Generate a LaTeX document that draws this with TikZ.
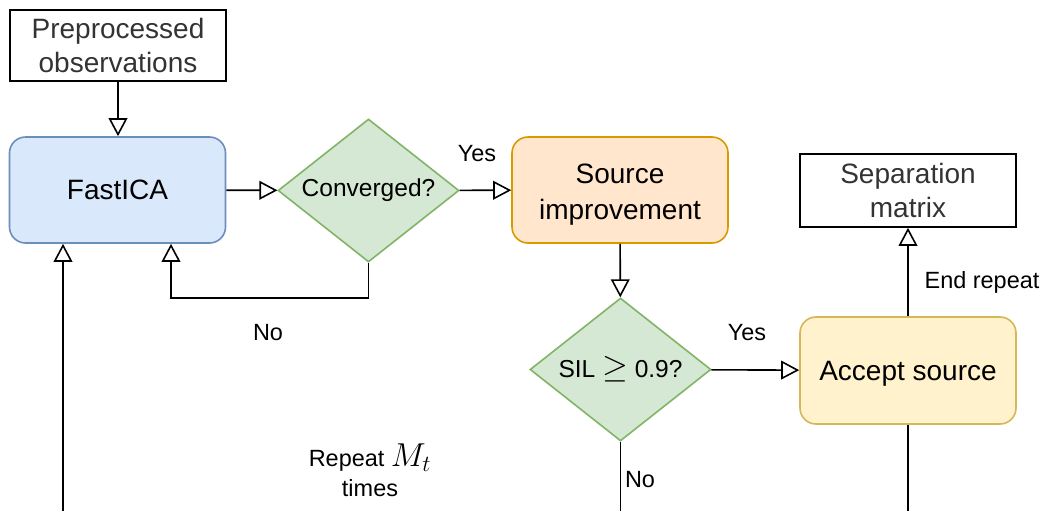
\documentclass[tikz,border=0pt]{standalone}
\usepackage{fontspec}
\setmainfont{Liberation Sans}
\usetikzlibrary{shapes.geometric,arrows.meta,positioning,calc}
\definecolor{IcaBlue}{HTML}{DAE8FC}
\definecolor{IcaBlueLine}{HTML}{6C8EBF}
\definecolor{DecGreen}{HTML}{D5E8D4}
\definecolor{DecGreenLine}{HTML}{82B366}
\definecolor{ImprOrange}{HTML}{FFE6CC}
\definecolor{ImprOrangeLine}{HTML}{D79B00}
\definecolor{AccYellow}{HTML}{FFF2CC}
\definecolor{AccYellowLine}{HTML}{D6B656}
\definecolor{TextGray}{HTML}{333333}
\newcommand{\bigmath}[1]{{\fontsize{23}{23}\selectfont$#1$}}

\begin{document}
\begin{tikzpicture}[x=0.75pt, y=-0.75pt,
  box/.style={draw, line width=1.2pt, rounded corners=12pt, minimum width=162pt, minimum height=79.5pt, align=center, inner sep=0pt, font=\fontsize{21}{27}\selectfont},
  plainbox/.style={draw, line width=1.2pt, minimum width=162pt, align=center, inner sep=0pt, text=TextGray, font=\fontsize{21}{25.5}\selectfont},
  decision/.style={diamond, draw=DecGreenLine, fill=DecGreen, line width=1.2pt, aspect=1.27, minimum width=135.75pt, minimum height=107.25pt, inner sep=0pt, font=\fontsize{18.4}{22}\selectfont},
  flow/.style={line width=1.2pt, -{Triangle[open, length=13.5pt, width=14pt]}},
  lbl/.style={align=center, font=\fontsize{17.6}{22.5}\selectfont}]
\useasboundingbox (0,0) rectangle (1049,511);

% Boxes
\node[plainbox, minimum height=53.25pt] (prep) at (118,45.5) {Preprocessed\\observations};
\node[box, draw=IcaBlueLine, fill=IcaBlue] (fica) at (117.5,190) {FastICA};
\node[decision] (conv) at (368.5,190.5) {Converged?};
\node[box, draw=ImprOrangeLine, fill=ImprOrange] (impr) at (620,190) {\rule{0pt}{22pt}Source\\improvement};
\node[decision] (sil) at (620.5,369.5) {SIL \bigmath{\geq} 0.9?};
\node[box, draw=AccYellowLine, fill=AccYellow, minimum height=80.25pt] (accept) at (908,370.5) {\rule{0pt}{19pt}Accept source};
\node[plainbox, minimum height=54.75pt] (sepm) at (908,190.5) {Separation\\matrix};

% Connectors
\draw[flow] (prep.south) -- (prep.south |- fica.north);
\draw[flow] (fica) -- (conv);
\draw[flow] (conv) -- (impr);
\draw[flow] (conv.south) -- ++(0,35) -| ($(fica.south)+(53.5,0)$);
\draw[flow] (impr) -- (sil);
\draw[flow] (sil) -- (accept);
\draw[flow] (accept) -- (sepm);

% Lines leaving the bottom edge
\coordinate (bottom) at (0,511);
\coordinate (loopin) at (63,511);
\draw[line width=1.2pt] (sil.south) -- (sil.south |- bottom);
\draw[line width=1.2pt] (accept.south) -- (accept.south |- bottom);
\draw[flow] (loopin) -- (loopin |- fica.south);

% Labels
\node[lbl] (yesconv) at (477,154) {Yes};
\node[lbl] (noconv) at (268,333) {No};
\node[lbl] (yessil) at (747,333) {Yes};
\node[lbl] (nosil) at (640,480) {No};
\node[lbl] (endrep) at (982,282) {End repeat};
\node[lbl] (repeat) at (370,470) {Repeat \bigmath{M_t}\\times};
\end{tikzpicture}
\end{document}
